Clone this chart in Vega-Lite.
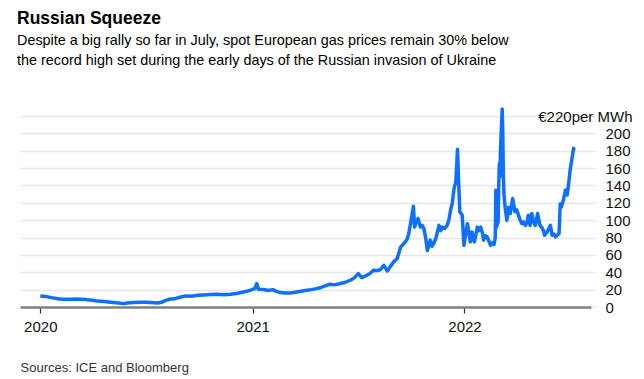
{
  "$schema": "https://vega.github.io/schema/vega-lite/v6.json",
  "width": 571,
  "height": 191,
  "autosize": {"type": "none"},
  "padding": {"left": 20, "top": 116, "right": 53, "bottom": 72},
  "background": "white",
  "title": {
    "text": "Russian Squeeze",
    "subtitle": ["Despite a big rally so far in July, spot European gas prices remain 30% below", "the record high set during the early days of the Russian invasion of Ukraine"],
    "anchor": "start",
    "frame": "group",
    "dx": -3,
    "offset": 40,
    "font": "Liberation Sans",
    "fontSize": 17.5,
    "fontWeight": "bold",
    "color": "#000000",
    "subtitleFont": "Liberation Sans",
    "subtitleFontSize": 14.4,
    "subtitleColor": "#000000",
    "subtitleLineHeight": 20,
    "subtitlePadding": 6
  },
  "config": {"view": {"stroke": null}, "font": "Liberation Sans"},
  "data": {"values": [
    {"date": "2020-01-01", "price": 12.8}, {"date": "2020-01-10", "price": 12.2}, {"date": "2020-01-20", "price": 10.8},
    {"date": "2020-02-01", "price": 9.6}, {"date": "2020-02-10", "price": 8.8}, {"date": "2020-02-20", "price": 9.0},
    {"date": "2020-03-01", "price": 9.2}, {"date": "2020-03-10", "price": 8.9}, {"date": "2020-03-20", "price": 8.5},
    {"date": "2020-03-31", "price": 7.8}, {"date": "2020-04-08", "price": 6.8}, {"date": "2020-04-20", "price": 6.4},
    {"date": "2020-05-01", "price": 5.6}, {"date": "2020-05-12", "price": 4.8}, {"date": "2020-05-23", "price": 3.9},
    {"date": "2020-05-30", "price": 4.6}, {"date": "2020-06-08", "price": 5.2}, {"date": "2020-06-22", "price": 5.4},
    {"date": "2020-07-01", "price": 5.6}, {"date": "2020-07-10", "price": 5.2}, {"date": "2020-07-21", "price": 4.7},
    {"date": "2020-07-28", "price": 5.4}, {"date": "2020-08-04", "price": 7.6}, {"date": "2020-08-12", "price": 9.2},
    {"date": "2020-08-20", "price": 9.6}, {"date": "2020-08-30", "price": 11.5}, {"date": "2020-09-08", "price": 12.8},
    {"date": "2020-09-18", "price": 12.4}, {"date": "2020-09-28", "price": 13.5}, {"date": "2020-10-08", "price": 13.8},
    {"date": "2020-10-20", "price": 14.3}, {"date": "2020-11-01", "price": 14.6}, {"date": "2020-11-12", "price": 14.0},
    {"date": "2020-11-24", "price": 14.6}, {"date": "2020-12-04", "price": 15.6}, {"date": "2020-12-16", "price": 17.3},
    {"date": "2020-12-24", "price": 18.5}, {"date": "2020-12-31", "price": 20.0},
    {"date": "2021-01-05", "price": 21.5}, {"date": "2021-01-08", "price": 27.0}, {"date": "2021-01-11", "price": 20.5},
    {"date": "2021-01-20", "price": 20.2}, {"date": "2021-01-28", "price": 19.0}, {"date": "2021-02-05", "price": 20.0},
    {"date": "2021-02-10", "price": 18.2}, {"date": "2021-02-17", "price": 16.6}, {"date": "2021-02-26", "price": 16.2},
    {"date": "2021-03-06", "price": 16.2}, {"date": "2021-03-15", "price": 17.0}, {"date": "2021-03-25", "price": 18.2},
    {"date": "2021-04-04", "price": 19.3}, {"date": "2021-04-12", "price": 20.0}, {"date": "2021-04-21", "price": 21.2},
    {"date": "2021-04-30", "price": 22.8}, {"date": "2021-05-07", "price": 24.5}, {"date": "2021-05-14", "price": 26.2},
    {"date": "2021-05-22", "price": 25.5}, {"date": "2021-06-01", "price": 27.0}, {"date": "2021-06-10", "price": 28.5},
    {"date": "2021-06-18", "price": 30.8}, {"date": "2021-06-25", "price": 33.5}, {"date": "2021-07-02", "price": 38.5},
    {"date": "2021-07-08", "price": 33.9}, {"date": "2021-07-15", "price": 36.0}, {"date": "2021-07-22", "price": 38.5},
    {"date": "2021-07-28", "price": 42.3}, {"date": "2021-08-04", "price": 42.0}, {"date": "2021-08-09", "price": 43.1},
    {"date": "2021-08-15", "price": 48.0}, {"date": "2021-08-21", "price": 41.5}, {"date": "2021-08-26", "price": 46.5},
    {"date": "2021-09-01", "price": 52.0}, {"date": "2021-09-07", "price": 55.8}, {"date": "2021-09-13", "price": 69.0},
    {"date": "2021-09-17", "price": 72.0}, {"date": "2021-09-21", "price": 75.0}, {"date": "2021-09-24", "price": 78.0},
    {"date": "2021-09-27", "price": 84.6}, {"date": "2021-09-30", "price": 96.0}, {"date": "2021-10-05", "price": 116.0},
    {"date": "2021-10-07", "price": 92.0}, {"date": "2021-10-10", "price": 98.0}, {"date": "2021-10-13", "price": 102.0},
    {"date": "2021-10-17", "price": 92.0}, {"date": "2021-10-20", "price": 94.0}, {"date": "2021-10-23", "price": 90.4},
    {"date": "2021-10-26", "price": 80.0}, {"date": "2021-10-29", "price": 65.0}, {"date": "2021-11-01", "price": 72.0},
    {"date": "2021-11-03", "price": 77.0}, {"date": "2021-11-06", "price": 70.0}, {"date": "2021-11-09", "price": 73.0},
    {"date": "2021-11-13", "price": 80.0}, {"date": "2021-11-18", "price": 94.0}, {"date": "2021-11-21", "price": 88.0},
    {"date": "2021-11-24", "price": 92.0}, {"date": "2021-11-28", "price": 90.4}, {"date": "2021-12-02", "price": 94.0},
    {"date": "2021-12-05", "price": 100.0}, {"date": "2021-12-08", "price": 111.6}, {"date": "2021-12-11", "price": 120.0},
    {"date": "2021-12-14", "price": 136.6}, {"date": "2021-12-17", "price": 144.0}, {"date": "2021-12-20", "price": 181.6},
    {"date": "2021-12-22", "price": 142.0}, {"date": "2021-12-24", "price": 109.6}, {"date": "2021-12-28", "price": 106.0},
    {"date": "2021-12-31", "price": 71.0},
    {"date": "2022-01-03", "price": 84.0}, {"date": "2022-01-06", "price": 96.0}, {"date": "2022-01-08", "price": 88.0},
    {"date": "2022-01-11", "price": 75.0}, {"date": "2022-01-14", "price": 86.5}, {"date": "2022-01-18", "price": 75.0},
    {"date": "2022-01-21", "price": 84.0}, {"date": "2022-01-23", "price": 92.0}, {"date": "2022-01-26", "price": 88.0},
    {"date": "2022-01-29", "price": 92.0}, {"date": "2022-02-01", "price": 85.0}, {"date": "2022-02-03", "price": 77.0},
    {"date": "2022-02-06", "price": 82.0}, {"date": "2022-02-09", "price": 80.8}, {"date": "2022-02-12", "price": 76.0},
    {"date": "2022-02-15", "price": 71.0}, {"date": "2022-02-18", "price": 74.0}, {"date": "2022-02-21", "price": 72.0},
    {"date": "2022-02-23", "price": 80.0}, {"date": "2022-02-24", "price": 134.6}, {"date": "2022-02-25", "price": 92.0},
    {"date": "2022-02-28", "price": 98.0}, {"date": "2022-03-01", "price": 140.0}, {"date": "2022-03-02", "price": 165.0},
    {"date": "2022-03-03", "price": 150.0}, {"date": "2022-03-04", "price": 181.0}, {"date": "2022-03-07", "price": 228.0},
    {"date": "2022-03-08", "price": 200.0}, {"date": "2022-03-09", "price": 150.0}, {"date": "2022-03-10", "price": 130.0},
    {"date": "2022-03-12", "price": 115.0}, {"date": "2022-03-15", "price": 100.0}, {"date": "2022-03-18", "price": 115.0},
    {"date": "2022-03-21", "price": 107.7}, {"date": "2022-03-25", "price": 125.0}, {"date": "2022-03-29", "price": 109.6},
    {"date": "2022-04-01", "price": 112.0}, {"date": "2022-04-04", "price": 105.8}, {"date": "2022-04-07", "price": 100.0},
    {"date": "2022-04-10", "price": 96.0}, {"date": "2022-04-13", "price": 98.0}, {"date": "2022-04-16", "price": 94.0},
    {"date": "2022-04-19", "price": 98.0}, {"date": "2022-04-21", "price": 105.8}, {"date": "2022-04-24", "price": 94.0},
    {"date": "2022-04-27", "price": 107.7}, {"date": "2022-04-30", "price": 98.0}, {"date": "2022-05-03", "price": 94.0},
    {"date": "2022-05-07", "price": 107.7}, {"date": "2022-05-11", "price": 94.0}, {"date": "2022-05-14", "price": 92.0},
    {"date": "2022-05-17", "price": 88.0}, {"date": "2022-05-19", "price": 82.7}, {"date": "2022-05-23", "price": 86.0},
    {"date": "2022-05-26", "price": 90.0}, {"date": "2022-05-29", "price": 94.0}, {"date": "2022-06-01", "price": 82.7},
    {"date": "2022-06-04", "price": 84.0}, {"date": "2022-06-07", "price": 80.8}, {"date": "2022-06-10", "price": 83.0},
    {"date": "2022-06-13", "price": 84.6}, {"date": "2022-06-15", "price": 119.0}, {"date": "2022-06-17", "price": 115.0},
    {"date": "2022-06-21", "price": 125.0}, {"date": "2022-06-24", "price": 134.6}, {"date": "2022-06-27", "price": 129.0},
    {"date": "2022-06-30", "price": 145.0}, {"date": "2022-07-02", "price": 157.7}, {"date": "2022-07-05", "price": 170.0},
    {"date": "2022-07-08", "price": 182.7}, {"date": "2022-07-09", "price": 180.8}
  ]},
  "mark": {"type": "line", "color": "#0f6fff", "strokeWidth": 3.5, "clip": false, "strokeJoin": "round"},
  "encoding": {
    "x": {
      "field": "date",
      "type": "temporal",
      "scale": {"type": "utc", "domain": [{"year": 2019, "month": 11, "date": 27, "utc": true}, {"year": 2022, "month": 8, "date": 7, "utc": true}]},
      "axis": {
        "title": "Sources: ICE and Bloomberg",
        "titleAnchor": "start",
        "titleAlign": "left",
        "titleFontSize": 13,
        "titleFontWeight": "normal",
        "titleColor": "#333333",
        "titlePadding": 27,
        "values": [{"year": 2020, "month": 1, "date": 1, "utc": true}, {"year": 2021, "month": 1, "date": 1, "utc": true}, {"year": 2022, "month": 1, "date": 1, "utc": true}],
        "format": "%Y",
        "grid": false,
        "domainColor": "#808080",
        "domainWidth": 2.5,
        "tickColor": "#333333",
        "tickWidth": 1.2,
        "tickSize": 6,
        "labelFontSize": 15,
        "labelColor": "#111111",
        "labelPadding": 6,
        "labelFlush": false
      }
    },
    "y": {
      "field": "price",
      "type": "quantitative",
      "scale": {"domain": [0, 220], "nice": false},
      "axis": {
        "orient": "right",
        "title": null,
        "values": [0, 20, 40, 60, 80, 100, 120, 140, 160, 180, 200, 220],
        "domain": false,
        "grid": true,
        "gridColor": "#e6e6e6",
        "gridWidth": 1.3,
        "tickColor": "#e6e6e6",
        "tickWidth": 1.3,
        "tickSize": 4,
        "labelFontSize": 15,
        "labelColor": "#111111",
        "labelBaseline": "middle",
        "labelAlign": {"condition": {"test": "datum.value == 220", "value": "right"}, "value": "left"},
        "labelPadding": {"condition": {"test": "datum.value == 220", "value": 37}, "value": 10},
        "labelExpr": "datum.value == 220 ? '€220per MWh' : datum.label"
      }
    }
  }
}
